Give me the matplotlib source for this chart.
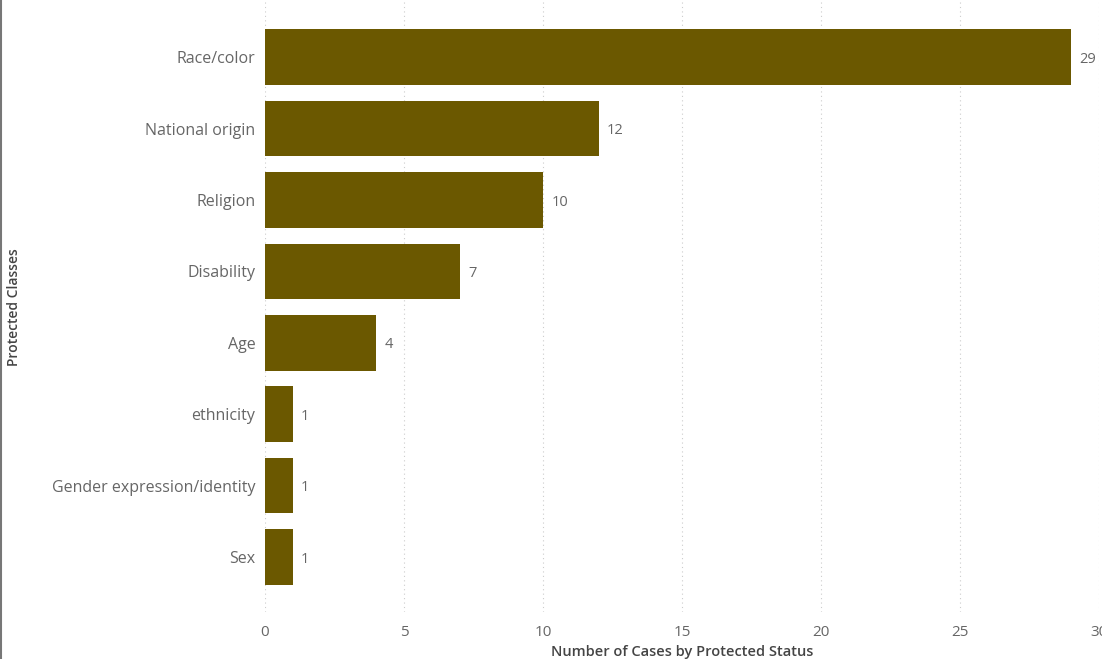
import matplotlib
matplotlib.use("Agg")
import matplotlib.pyplot as plt
from matplotlib.lines import Line2D

categories = ["Race/color", "National origin", "Religion", "Disability", "Age",
              "ethnicity", "Gender expression/identity", "Sex"]
values = [29, 12, 10, 7, 4, 1, 1, 1]
xticks = [0, 5, 10, 15, 20, 25, 30]

plt.rcParams['font.family'] = ['Open Sans', 'DejaVu Sans']

fig = plt.figure(figsize=(11.02, 6.59), dpi=100)
ax = fig.add_axes([265/1102, 1-612/659, (1099-265)/1102, 612/659])

bar_color = "#6B5800"
text_color = "#666666"
ypos = list(range(len(categories)))
ax.barh(ypos, values, height=0.78, color=bar_color, zorder=3)
for y, v in zip(ypos, values):
    ax.text(v + 0.3, y + 0.03, str(v), va="center", ha="left", fontsize=10.5, color=text_color)

ax.set_xlim(0, 30)
ax.set_ylim(7.77, -0.8)
ax.set_yticks(ypos)
ax.set_yticklabels(categories, fontsize=11.5, color=text_color)
ax.set_xticks(xticks)
ax.set_xticklabels([str(t) for t in xticks], fontsize=11, color=text_color)
ax.tick_params(axis='both', length=0)
ax.tick_params(axis='y', pad=7)
ax.tick_params(axis='x', pad=9)
ax.grid(axis='x', linestyle=(0, (1, 3)), color="#cccccc", linewidth=0.8, zorder=0)
for s in ax.spines.values():
    s.set_visible(False)

ax.set_xlabel("Number of Cases by Protected Status", fontsize=10.5, color="#444444",
              labelpad=4, fontweight="semibold", fontstretch="condensed")
fig.text(14/1102, 1-307/659, "Protected Classes", rotation=90, fontsize=10,
         color="#444444", ha="center", va="center", fontweight="semibold")

fig.add_artist(Line2D([1/1102, 1/1102], [0, 1], transform=fig.transFigure,
                      color="#777777", linewidth=1.5))

fig.savefig("out.png", dpi=100)
